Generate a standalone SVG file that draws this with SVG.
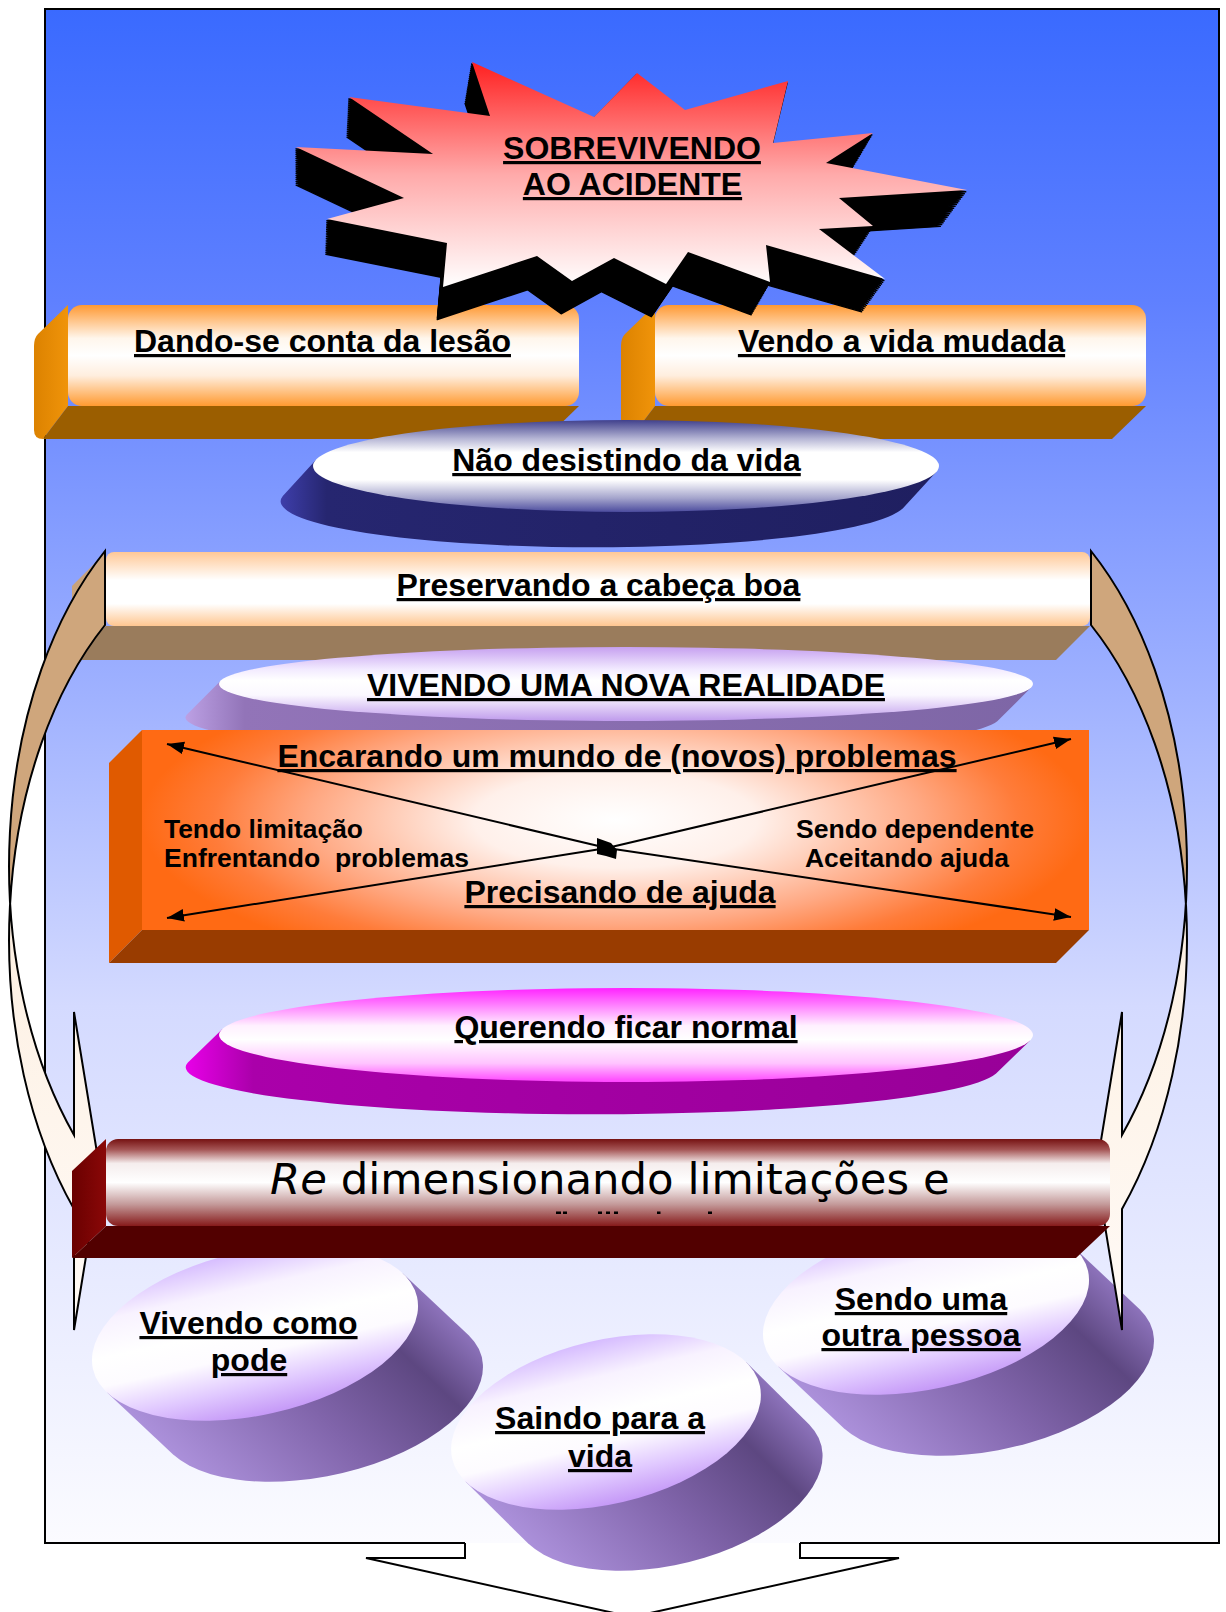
<svg xmlns="http://www.w3.org/2000/svg" width="1226" height="1612" viewBox="0 0 1226 1612">
<style>
.lbl{font-family:'Liberation Sans',Arial,sans-serif;font-weight:bold;font-size:32px;fill:#000;text-anchor:middle;text-decoration:underline;}
.sm{font-family:'Liberation Sans',Arial,sans-serif;font-weight:bold;font-size:25px;fill:#000;}
.big{font-family:'DejaVu Sans',sans-serif;font-size:43.4px;fill:#000;}
.ln{stroke:#000;stroke-width:2;fill:none;}
</style>
<defs>
<linearGradient id="gBg" x1="0" y1="0" x2="0" y2="1">
<stop offset="0" stop-color="#3a6aff"/><stop offset="0.19" stop-color="#5f80ff"/><stop offset="0.45" stop-color="#a0b2ff"/><stop offset="0.65" stop-color="#d4daff"/><stop offset="1" stop-color="#fbfbff"/>
</linearGradient>
<linearGradient id="gStar" gradientUnits="userSpaceOnUse" x1="0" y1="62" x2="0" y2="287">
<stop offset="0" stop-color="#ff2020"/><stop offset="0.5" stop-color="#ffaaaa"/><stop offset="1" stop-color="#ffffff"/>
</linearGradient>
<linearGradient id="gOrFront" x1="0" y1="0" x2="0" y2="1">
<stop offset="0" stop-color="#ff9933"/><stop offset="0.33" stop-color="#fff6ec"/><stop offset="0.5" stop-color="#ffffff"/><stop offset="0.7" stop-color="#ffeede"/><stop offset="1" stop-color="#ff9a30"/>
</linearGradient>
<linearGradient id="gOrSide" x1="0" y1="0" x2="1" y2="0">
<stop offset="0" stop-color="#dc8200"/><stop offset="1" stop-color="#f0940a"/>
</linearGradient>
<linearGradient id="gPeach" x1="0" y1="0" x2="0" y2="1">
<stop offset="0" stop-color="#ffc896"/><stop offset="0.38" stop-color="#ffffff"/><stop offset="0.7" stop-color="#ffffff"/><stop offset="1" stop-color="#ffc690"/>
</linearGradient>
<linearGradient id="gNaoTop" x1="0" y1="0" x2="0" y2="1">
<stop offset="0" stop-color="#40408c"/><stop offset="0.2" stop-color="#b4b4d4"/><stop offset="0.35" stop-color="#ffffff"/><stop offset="0.65" stop-color="#ffffff"/><stop offset="0.85" stop-color="#a4a4cc"/><stop offset="1" stop-color="#4c4c9e"/>
</linearGradient>
<linearGradient id="gNaoSide" x1="0" y1="0" x2="1" y2="0">
<stop offset="0" stop-color="#3e3eaa"/><stop offset="0.07" stop-color="#262670"/><stop offset="1" stop-color="#1f1f60"/>
</linearGradient>
<linearGradient id="gVivTop" x1="0" y1="0" x2="0" y2="1">
<stop offset="0" stop-color="#c6a0f0"/><stop offset="0.3" stop-color="#f2eaff"/><stop offset="0.45" stop-color="#ffffff"/><stop offset="0.65" stop-color="#fbf8ff"/><stop offset="1" stop-color="#bf9bec"/>
</linearGradient>
<linearGradient id="gVivSide" x1="0" y1="0" x2="1" y2="0">
<stop offset="0" stop-color="#bca0e4"/><stop offset="0.07" stop-color="#9274b8"/><stop offset="1" stop-color="#7e66a6"/>
</linearGradient>
<radialGradient id="gBox" cx="0.5" cy="0.45" r="0.5" gradientTransform="translate(0.5,0.45) scale(1,1.6) translate(-0.5,-0.45)">
<stop offset="0" stop-color="#ffffff"/><stop offset="0.3" stop-color="#fff0ea"/><stop offset="0.65" stop-color="#ffa882"/><stop offset="0.85" stop-color="#ff7c3a"/><stop offset="1" stop-color="#ff6a14"/>
</radialGradient>
<linearGradient id="gQuerTop" x1="0" y1="0" x2="0" y2="1">
<stop offset="0" stop-color="#ff22ff"/><stop offset="0.4" stop-color="#fff0ff"/><stop offset="0.55" stop-color="#ffffff"/><stop offset="0.8" stop-color="#ffc4ff"/><stop offset="1" stop-color="#ff44ff"/>
</linearGradient>
<linearGradient id="gQuerSide" x1="0" y1="0" x2="1" y2="0">
<stop offset="0" stop-color="#e800e8"/><stop offset="0.08" stop-color="#aa00aa"/><stop offset="1" stop-color="#980098"/>
</linearGradient>
<linearGradient id="gRedFront" x1="0" y1="0" x2="0" y2="1">
<stop offset="0" stop-color="#761212"/><stop offset="0.12" stop-color="#a45454"/><stop offset="0.28" stop-color="#f5eded"/><stop offset="0.5" stop-color="#ffffff"/><stop offset="0.75" stop-color="#c49a9a"/><stop offset="1" stop-color="#861a1a"/>
</linearGradient>
<linearGradient id="gRedSide" x1="0" y1="0" x2="1" y2="0">
<stop offset="0" stop-color="#6a0000"/><stop offset="1" stop-color="#8a0808"/>
</linearGradient>
<linearGradient id="gCylTop" gradientUnits="userSpaceOnUse" x1="0" y1="-82" x2="0" y2="82">
<stop offset="0" stop-color="#d6bcff"/><stop offset="0.22" stop-color="#f8f2ff"/><stop offset="0.45" stop-color="#ffffff"/><stop offset="0.62" stop-color="#fdfbff"/><stop offset="0.82" stop-color="#e0c8ff"/><stop offset="1" stop-color="#c599f7"/>
</linearGradient>
<linearGradient id="gCylBody" gradientUnits="userSpaceOnUse" x1="-99" y1="105" x2="99" y2="-105">
<stop offset="0" stop-color="#ab90da"/><stop offset="0.45" stop-color="#8064aa"/><stop offset="0.8" stop-color="#5d4781"/><stop offset="1" stop-color="#8c72ba"/>
</linearGradient>
<linearGradient id="gArrow" gradientUnits="userSpaceOnUse" x1="0" y1="551" x2="0" y2="1330">
<stop offset="0" stop-color="#cfa67c"/><stop offset="0.41" stop-color="#cfa67c"/><stop offset="0.46" stop-color="#fdf0e2"/><stop offset="1" stop-color="#fffaf6"/>
</linearGradient>
<polygon id="star" points="472,62 594,117 637,73 685,110 788,81 773,143 873,133 826,163 967,190 839,198 873,226 819,229 885,279 766,245 770,282 688,252 666,284 614,258 572,281 537,256 443,287 447,243 327,219 404,198 296,147 433,154 349,97 490,116"/>
<g id="cyl">
<path d="M147.9,-59.6 L213.9,2.4 A166,82 -12.5 0 1 -81.9,121.6 L-147.9,59.6 Z" fill="url(#gCylBody)"/>
<ellipse rx="166" ry="82" transform="rotate(-12.5)" fill="url(#gCylTop)"/>
</g>
<marker id="ah" viewBox="0 0 16 12" refX="16" refY="6" markerWidth="17" markerHeight="13" markerUnits="userSpaceOnUse" orient="auto">
<path d="M0,0 L16,6 L0,12 Z" fill="#000"/>
</marker>
</defs>

<g id="frame">
<rect x="45" y="9" width="1174" height="1534" fill="url(#gBg)"/>
<path class="ln" d="M465,1543 H45 V9 H1219 V1543 H800"/>
</g>

<g id="n-dando">
<path d="M68,305 L38,334 Q34,338 34,346 L34,430 Q34,439 43,439 L68,406 Z" fill="url(#gOrSide)"/>
<path d="M68,406 L579,406 L545,439 L43,439 Z" fill="#9b5e00"/>
<rect x="68" y="305" width="511" height="101" rx="14" fill="url(#gOrFront)"/>
<text class="lbl" x="322.5" y="352">Dando-se conta da lesão</text>
</g>

<g id="n-vendo">
<path d="M655,305 L625,334 Q621,338 621,346 L621,430 Q621,439 630,439 L655,406 Z" fill="url(#gOrSide)"/>
<path d="M655,406 L1146,406 L1112,439 L630,439 Z" fill="#9b5e00"/>
<rect x="655" y="305" width="491" height="101" rx="14" fill="url(#gOrFront)"/>
<text class="lbl" x="901.5" y="352">Vendo a vida mudada</text>
</g>

<g id="n-sobrevivendo">
<g fill="#000" stroke="#000" stroke-width="1.5" stroke-linejoin="round">
<use href="#star" transform="matrix(0.960,0,0,0.960,12,44)"/>
<use href="#star" transform="matrix(0.962,0,0,0.962,11.4,41.8)"/>
<use href="#star" transform="matrix(0.964,0,0,0.964,10.8,39.6)"/>
<use href="#star" transform="matrix(0.966,0,0,0.966,10.2,37.4)"/>
<use href="#star" transform="matrix(0.968,0,0,0.968,9.6,35.2)"/>
<use href="#star" transform="matrix(0.970,0,0,0.970,9,33)"/>
<use href="#star" transform="matrix(0.972,0,0,0.972,8.4,30.8)"/>
<use href="#star" transform="matrix(0.974,0,0,0.974,7.8,28.6)"/>
<use href="#star" transform="matrix(0.976,0,0,0.976,7.2,26.4)"/>
<use href="#star" transform="matrix(0.978,0,0,0.978,6.6,24.2)"/>
<use href="#star" transform="matrix(0.980,0,0,0.980,6,22)"/>
<use href="#star" transform="matrix(0.982,0,0,0.982,5.4,19.8)"/>
<use href="#star" transform="matrix(0.984,0,0,0.984,4.8,17.6)"/>
<use href="#star" transform="matrix(0.986,0,0,0.986,4.2,15.4)"/>
<use href="#star" transform="matrix(0.988,0,0,0.988,3.6,13.2)"/>
<use href="#star" transform="matrix(0.990,0,0,0.990,3,11)"/>
<use href="#star" transform="matrix(0.992,0,0,0.992,2.4,8.8)"/>
<use href="#star" transform="matrix(0.994,0,0,0.994,1.8,6.6)"/>
<use href="#star" transform="matrix(0.996,0,0,0.996,1.2,4.4)"/>
<use href="#star" transform="matrix(0.998,0,0,0.998,0.6,2.2)"/>
</g>
<use href="#star" fill="url(#gStar)"/>
<text class="lbl" x="632" y="159">SOBREVIVENDO</text>
<text class="lbl" x="632.5" y="195">AO ACIDENTE</text>
</g>

<g id="n-nao-desistindo">
<path d="M315.8,459.9 L282.8,495.9 A313,46 0 0 0 903.2,508.1 L936.2,472.1 Z" fill="url(#gNaoSide)"/>
<ellipse cx="626" cy="466" rx="313" ry="46" fill="url(#gNaoTop)"/>
<text class="lbl" x="626.5" y="471">Não desistindo da vida</text>
</g>

<g id="n-preservando">
<path d="M106,552 L72,586 L72,660 L106,626 Z" fill="#c8a27a"/>
<path d="M106,626 L1090,626 L1056,660 L72,660 Z" fill="#9a7c5c"/>
<rect x="106" y="552" width="984" height="74" rx="8" fill="url(#gPeach)"/>
<text class="lbl" x="598.5" y="596">Preservando a cabeça boa</text>
</g>

<g id="n-vivendo-realidade">
<path d="M220.7,680.65 L186.7,714.65 A407,37 0 0 0 997.3,721.35 L1031.3,687.35 Z" fill="url(#gVivSide)"/>
<ellipse cx="626" cy="684" rx="407" ry="37" fill="url(#gVivTop)"/>
<text class="lbl" x="626" y="696">VIVENDO UMA NOVA REALIDADE</text>
</g>

<g id="n-encarando">
<path d="M142,730 L109,763 L109,963 L142,930 Z" fill="#e05a00"/>
<path d="M142,930 L1089,930 L1056,963 L109,963 Z" fill="#993c00"/>
<rect x="142" y="730" width="947" height="200" fill="url(#gBox)"/>
<text class="lbl" x="617" y="767">Encarando um mundo de (novos) problemas</text>
<text class="sm" x="164" y="838" textLength="199" lengthAdjust="spacingAndGlyphs">Tendo limitação</text>
<text class="sm" x="164" y="867" textLength="305" lengthAdjust="spacingAndGlyphs" style="white-space:pre">Enfrentando  problemas</text>
<text class="sm" x="796" y="838" textLength="238" lengthAdjust="spacingAndGlyphs">Sendo dependente</text>
<text class="sm" x="805" y="867" textLength="204" lengthAdjust="spacingAndGlyphs">Aceitando ajuda</text>
<text class="lbl" x="620" y="903">Precisando de ajuda</text>
</g>

<g id="n-querendo">
<path d="M221.9,1029.44 L187.9,1062.44 A407,47 0 0 0 996.1,1073.56 L1030.1,1040.56 Z" fill="url(#gQuerSide)"/>
<ellipse cx="626" cy="1035" rx="407" ry="47" fill="url(#gQuerTop)"/>
<text class="lbl" x="626" y="1038">Querendo ficar normal</text>
</g>

<g id="n-vivendo-como">
<use href="#cyl" transform="translate(255,1333)"/>
<text class="lbl" x="248.5" y="1334">Vivendo como</text>
<text class="lbl" x="249" y="1371">pode</text>
</g>

<g id="n-sendo-outra">
<use href="#cyl" transform="translate(926,1307)"/>
<text class="lbl" x="921" y="1310">Sendo uma</text>
<text class="lbl" x="921" y="1346">outra pessoa</text>
</g>

<g id="n-saindo">
<use href="#cyl" transform="translate(606,1422) scale(0.95,1)"/>
<text class="lbl" x="600" y="1429">Saindo para a</text>
<text class="lbl" x="600" y="1467">vida</text>
</g>

<g id="connectors">
<path d="M1091,551 A250,400 0 0 1 1122,1135 L1122,1012 L1096,1171 L1122,1330 L1122,1209 A250,400 0 0 0 1091,625 Z" fill="url(#gArrow)" stroke="#000" stroke-width="2"/>
<path d="M105,551 A250,400 0 0 0 74,1135 L74,1012 L100,1171 L74,1330 L74,1209 A250,400 0 0 1 105,625 Z" fill="url(#gArrow)" stroke="#000" stroke-width="2"/>
<g class="ln">
<line x1="607" y1="848" x2="167" y2="744" marker-end="url(#ah)"/>
<line x1="607" y1="848" x2="1071" y2="739" marker-end="url(#ah)"/>
<line x1="607" y1="848" x2="167" y2="918" marker-end="url(#ah)"/>
<line x1="607" y1="848" x2="1071" y2="917" marker-end="url(#ah)"/>
</g>
<polygon points="597,838 611,843 617,850 616,859 606,856 597,854" fill="#000"/>
<path class="ln" d="M465,1543 V1558 H366 L632,1617 L899,1558 H800 V1543"/>
</g>

<g id="n-redimensionando">
<path d="M106,1139 L72,1171 L72,1258 L106,1226 Z" fill="url(#gRedSide)"/>
<path d="M106,1226 L1110,1226 L1076,1258 L72,1258 Z" fill="#520000"/>
<rect x="106" y="1139" width="1004" height="87" rx="12" fill="url(#gRedFront)"/>
<text class="big" x="270" y="1194"><tspan font-style="italic">Re</tspan> dimensionando limitações e</text>
<g fill="#000">
<rect x="556" y="1211.5" width="5" height="2.5"/><rect x="563" y="1211.5" width="4" height="2.5"/>
<rect x="598" y="1211.5" width="4" height="2.5"/><rect x="606" y="1211.5" width="4" height="2.5"/><rect x="614" y="1211.5" width="4" height="2.5"/>
<rect x="657" y="1211.5" width="3.5" height="2.5"/><rect x="708" y="1211.5" width="4" height="2.5"/>
</g>
</g>
</svg>
